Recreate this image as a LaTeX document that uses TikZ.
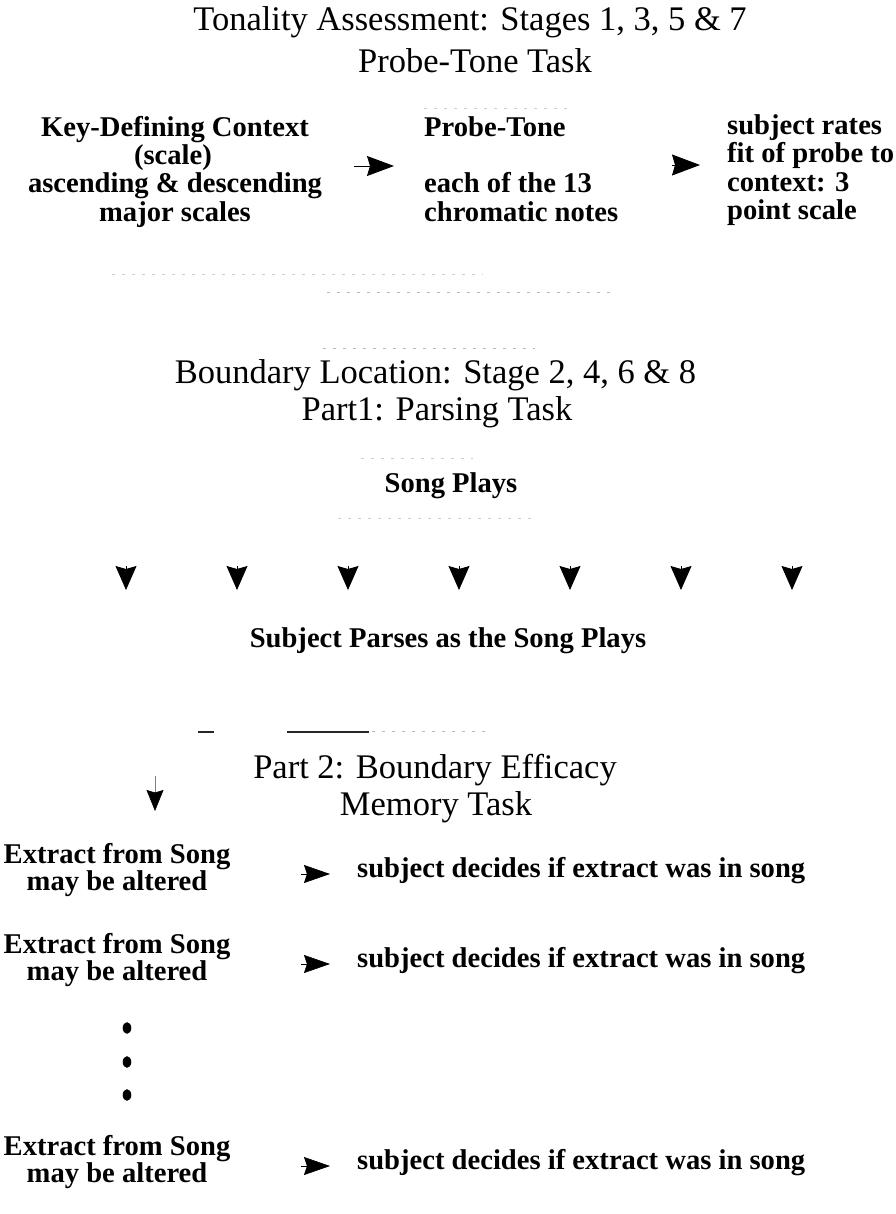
\documentclass[tikz,border=0pt]{standalone}
\usepackage{fontspec}
\setmainfont{Liberation Serif}
\usetikzlibrary{arrows.meta,shapes.geometric}
\begin{document}
\begin{tikzpicture}[x=1pt,y=-1pt,
  head/.style={font=\fontsize{34.5}{41}\selectfont, inner sep=0pt, anchor=base},
  body/.style={font=\fontsize{28.6}{28}\selectfont\bfseries, inner sep=0pt, anchor=base},
  bodyw/.style={body, anchor=base west},
  tipr/.style={-{Stealth[length=27pt,width=20pt,inset=3pt]}, line width=0.9pt},
  tiprb/.style={-{Stealth[length=28pt,width=21pt,inset=3pt]}, line width=0.9pt},
  tipd/.style={-{Stealth[length=24pt,width=21pt,inset=3pt]}, line width=0.9pt},
  tipds/.style={-{Stealth[length=21pt,width=17pt,inset=2.5pt,color=black]}, line width=0.5pt, draw=gray},
  tipm/.style={-{Stealth[length=26pt,width=18pt,inset=3pt]}, line width=0.6pt},
  dotb/.style={ellipse, fill=black, inner sep=0pt, minimum width=8.6pt, minimum height=11.6pt},
  art/.style={gray!40, line width=0.8pt, dash pattern=on 3pt off 7pt},
  artd/.style={black!85, line width=1.6pt}
]
\useasboundingbox (0,0) rectangle (895,1214);

% ---------- Section 1 ----------
\node[head] (t1) at (470,31) {Tonality Assessment: Stages 1, 3, 5 \& 7};
\node[head] (t2) at (475,73) {Probe-Tone Task};

\node[body] (k1) at (175,137) {Key-Defining Context};
\node[body] (k2) at (173,165) {(scale)};
\node[body] (k3) at (175,193) {ascending \& descending};
\node[body] (k4) at (175,222) {major scales};

\node[bodyw] (p1) at (424,137) {Probe-Tone};
\node[bodyw] (p2) at (424,193) {each of the 13};
\node[bodyw] (p3) at (424,222) {chromatic notes};

\node[bodyw] (r1) at (727,135) {subject rates};
\node[bodyw] (r2) at (727,163) {fit of probe to};
\node[bodyw] (r3) at (727,192) {context: 3};
\node[bodyw] (r4) at (727,220) {point scale};

\coordinate (a1s) at (354,166);
\coordinate (a1e) at (394,166);
\draw[tipr] (a1s) -- (a1e);
\coordinate (a2s) at (672,165);
\coordinate (a2e) at (700,165);
\draw[tiprb] (a2s) -- (a2e);

% faint scan marks
\draw[art] (424,108) -- (573,108);
\draw[art] (112,274) -- (483,274);
\draw[art, gray!55] (327,292) -- (610,292);
\draw[art, gray!55] (323,348) -- (535,348);
\draw[art] (361,458) -- (473,458);
\draw[art] (338,518) -- (531,518);

% ---------- Section 2 ----------
\node[head] (b1) at (435.5,383) {Boundary Location: Stage 2, 4, 6 \& 8};
\node[head] (b2) at (437,420) {Part1: Parsing Task};

\node[body] (sp) at (451,492) {Song Plays};

\foreach \i in {0,...,6} {
  \coordinate (d\i s) at ({126+111*\i},566);
  \coordinate (d\i e) at ({126+111*\i},590);
  \draw[tipd] (d\i s) -- (d\i e);
}

\node[body] (sub) at (448,647) {Subject Parses as the Song Plays};

% ---------- Section 3 ----------
\draw[artd] (198,732) -- (214,732);
\draw[artd] (287,732) -- (369,732);
\draw[art, gray!55] (372,731) -- (485,731);

\node[head] (m1) at (435,778) {Part 2: Boundary Efficacy};
\node[head] (m2) at (436,815) {Memory Task};

\coordinate (ds) at (155,776);
\coordinate (de) at (155,811);
\draw[tipds] (ds) -- (de);

\foreach \n/\B in {1/863, 2/953, 3/1155} {
  \node[body] (e\n a) at (117,\B) {Extract from Song};
  \node[body] (e\n b) at (117,\B+27) {may be altered};
  \coordinate (x\n s) at (301,\B+11);
  \coordinate (x\n e) at (330,\B+11);
  \draw[tipm] (x\n s) -- (x\n e);
  \node[bodyw] (s\n) at (357,\B+14) {subject decides if extract was in song};
}

\node[dotb] (dt1) at (127,1028) {};
\node[dotb] (dt2) at (127,1062) {};
\node[dotb] (dt3) at (127,1095) {};

\end{tikzpicture}
\end{document}
